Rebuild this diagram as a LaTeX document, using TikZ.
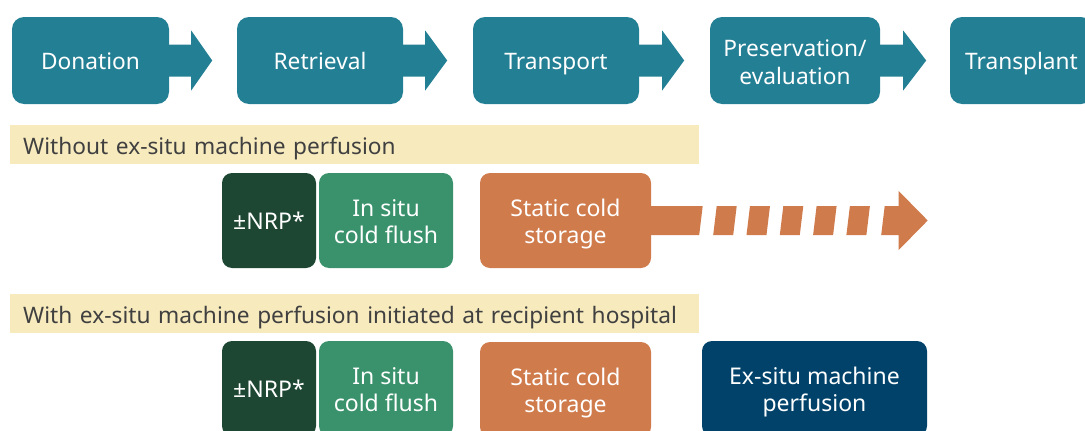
\documentclass[tikz,border=0pt]{standalone}
\usepackage{fontspec}
\setmainfont{Noto Sans}
\definecolor{stagecol}{RGB}{35,127,148}
\definecolor{nrpcol}{RGB}{29,71,51}
\definecolor{flushcol}{RGB}{58,146,108}
\definecolor{storecol}{RGB}{207,123,76}
\definecolor{machcol}{RGB}{0,66,106}
\definecolor{bandcol}{RGB}{247,235,190}
\definecolor{bandtext}{RGB}{64,64,64}
\begin{document}
\begin{tikzpicture}[x=1pt,y=-1pt,
		stage/.style={fill=stagecol,text=white,rounded corners=12pt,minimum height=87pt,align=center,inner sep=0pt,text height=18.5pt,text depth=0pt,font=\fontsize{22.7}{28}\selectfont},
		step box/.style={rounded corners=10pt,text=white,minimum height=95pt,align=center,inner sep=0pt,text height=45.5pt,text depth=0pt,font=\fontsize{23}{27}\selectfont},
		band/.style={fill=bandcol,text=bandtext,anchor=north west,minimum height=39pt,text width=663pt,inner xsep=13pt,inner ysep=0pt,align=left,text height=20.5pt,text depth=0pt,font=\fontsize{22.7}{24}\selectfont}]
			\useasboundingbox (0,0) rectangle (1085,431);
			\node[stage,minimum width=157] (don) at (90.5,60.5) {Donation};
			\node[stage,minimum width=166] (ret) at (320,60.5) {Retrieval};
			\node[stage,minimum width=166] (tra) at (556,60.5) {Transport};
			\node[stage,minimum width=170,text height=48.5pt] (pre) at (795,60.5) {Preservation/\\evaluation};
			\node[stage,minimum width=143] (tpl) at (1021.5,60.5) {Transplant};
			\fill[stagecol] (don.east) ++(-2,-16) -- ++(24,0) -- ++(0,-14) -- ++(21,30) -- ++(-21,30) -- ++(0,-14) -- ++(-24,0) -- cycle;
			\fill[stagecol] (ret.east) ++(-2,-16) -- ++(24,0) -- ++(0,-14) -- ++(22,30) -- ++(-22,30) -- ++(0,-14) -- ++(-24,0) -- cycle;
			\fill[stagecol] (tra.east) ++(-2,-16) -- ++(25,0) -- ++(0,-14) -- ++(22,30) -- ++(-22,30) -- ++(0,-14) -- ++(-25,0) -- cycle;
			\fill[stagecol] (pre.east) ++(-2,-16) -- ++(25,0) -- ++(0,-14) -- ++(23,30) -- ++(-23,30) -- ++(0,-14) -- ++(-25,0) -- cycle;
			\node[band,minimum width=689] (without) at (10,125) {Without ex-situ machine perfusion};
			\node[band,minimum width=689] (with) at (10,294) {With ex-situ machine perfusion initiated at recipient hospital};
			\node[step box,fill=nrpcol,minimum width=94,text height=18.5pt] (nrp1) at (269,220.5) {±NRP*};
			\node[step box,fill=flushcol,minimum width=134] (flush1) at (386,220.5) {In situ\\cold flush};
			\node[step box,fill=storecol,minimum width=171] (store1) at (565.5,220.5) {Static cold\\storage};
			\fill[storecol] (store1.east) ++(-5,-14.5) -- ++(56.5,0) -- ++(-3.5,29) -- ++(-53,0) -- cycle;
			\foreach \i in {0,...,4}
				\fill[storecol] (store1.east) ++(65.5+33.3*\i,-14.5) -- ++(20,0) -- ++(-3.5,29) -- ++(-20,0) -- cycle;
			\fill[storecol] (store1.east) ++(233.5,-14.5) -- ++(14,0) -- ++(0,-15) -- ++(29,29.5) -- ++(-29,29.5) -- ++(0,-15) -- ++(-17.5,0) -- cycle;
			\node[step box,fill=nrpcol,minimum width=94,text height=18.5pt] (nrp2) at (269,388.5) {±NRP*};
			\node[step box,fill=flushcol,minimum width=134] (flush2) at (386,388.5) {In situ\\cold flush};
			\node[step box,fill=storecol,minimum width=171] (store2) at (565.5,389.5) {Static cold\\storage};
			\node[step box,fill=machcol,minimum width=225] (mach) at (814.5,388.5) {Ex-situ machine\\perfusion};
\end{tikzpicture}
\end{document}
